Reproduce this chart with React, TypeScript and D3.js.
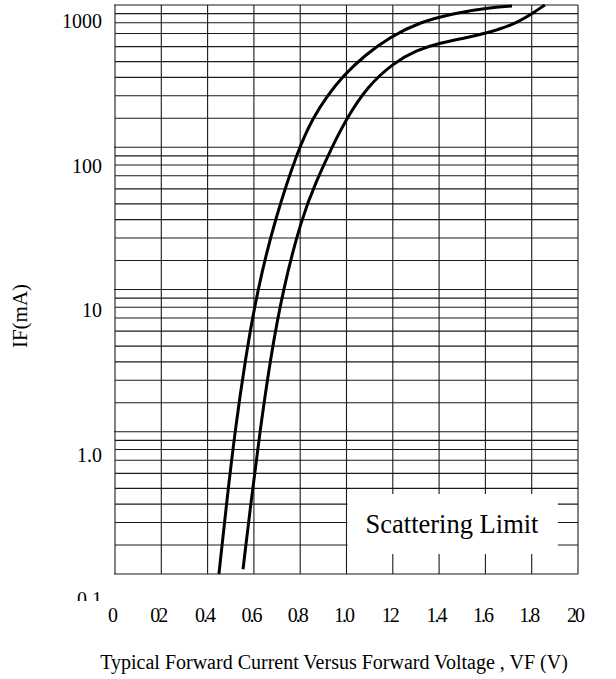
import React from "react";
import * as d3 from "d3";

const voltTicks = [0, 0.2, 0.4, 0.6, 0.8, 1.0, 1.2, 1.4, 1.6, 1.8, 2.0];
const voltLabels = ["0", "02", "0.4", "0.6", "0.8", "1.0", "12", "1.4", "1.6", "1.8", "20"];
const decades = [0.1, 1, 10, 100, 1000];
const decadeLabels = ["0.1", "1.0", "10", "100", "1000"];
const minorMultipliers = [1.6, 2.3, 3.1, 4.0, 5.1, 6.3, 7.5, 8.7];

const curveAVolts = [0.449, 0.482, 0.518, 0.562, 0.616, 0.692, 0.795, 0.855, 0.916, 0.985, 1.08, 1.188, 1.317, 1.469, 1.607, 1.715];
const curveAmA = [0.1, 0.316, 1.0, 3.19, 10.1, 31.8, 100.4, 160.6, 229, 317, 445, 596, 760, 878, 953, 984];

const curveBVolts = [0.553, 0.587, 0.626, 0.67, 0.726, 0.806, 0.868, 0.937, 1.004, 1.089, 1.201, 1.305, 1.404, 1.512, 1.607, 1.719, 1.806, 1.857];
const curveBmA = [0.108, 0.316, 1.0, 3.19, 10.1, 31.8, 57, 100.4, 163, 265, 391, 483, 541, 586, 635, 723, 878, 1000];

const W = 616;
const H = 679;
const left = 115, right = 578, top = 5, bottom = 574;

export default function App() {
  const x = d3.scaleLinear().domain([0, 2.0]).range([left, right]);
  const y = d3.scaleLog().domain([0.1, 1000]).range([bottom, top]);
  const yLabel = d3.scaleLog().domain([0.1, 1000]).range([606, 28]);

  const hLines: { v: number; major: boolean }[] = [];
  decades.forEach((d, i) => {
    hLines.push({ v: d, major: true });
    if (i < decades.length - 1) minorMultipliers.forEach((m) => hLines.push({ v: d * m, major: false }));
  });

  const line = d3
    .line<[number, number]>()
    .x((d) => x(d[0]))
    .y((d) => y(d[1]))
    .curve(d3.curveBasis);

  const curveA = line(curveAVolts.map((v, i) => [v, curveAmA[i]] as [number, number])) || "";
  const curveB = line(curveBVolts.map((v, i) => [v, curveBmA[i]] as [number, number])) || "";

  const font = "'Liberation Serif', 'Times New Roman', serif";
  const gridStroke = "#1a1a1a";

  return (
    <svg width={W} height={H} style={{ position: "absolute", left: 0, top: 0, background: "#fff" }} fontFamily={font}>
      <defs>
        <clipPath id="ylabclip">
          <rect x={0} y={0} width={left} height={601} />
        </clipPath>
      </defs>
      <rect x={0} y={0} width={W} height={H} fill="#fff" />
      {hLines.map((h, i) => (
        <line key={"h" + i} x1={h.major ? left - 1 : left} x2={right} y1={y(h.v)} y2={y(h.v)} stroke={gridStroke} strokeWidth={1.1} />
      ))}
      {voltTicks.map((v, i) => (
        <line key={"v" + i} x1={x(v)} x2={x(v)} y1={top} y2={bottom} stroke={gridStroke} strokeWidth={1.1} />
      ))}
      <rect x={x(1.0) + 1} y={494} width={x(1.9) + 2 - x(1.0)} height={60} fill="#fff" />
      <text x={452} y={533} fontSize={26.5} textAnchor="middle" fill="#000">
        Scattering Limit
      </text>
      <path d={curveA} fill="none" stroke="#000" strokeWidth={3} />
      <path d={curveB} fill="none" stroke="#000" strokeWidth={3} />
      <g clipPath="url(#ylabclip)">
        {decades.map((d, i) => (
          <text key={"yl" + i} x={102} y={yLabel(d)} fontSize={20} textAnchor="end" fill="#000">
            {decadeLabels[i]}
          </text>
        ))}
      </g>
      {voltTicks.map((v, i) => (
        <text key={"xl" + i} x={x(v) - 3} y={622} fontSize={20} textAnchor="middle" letterSpacing={-2} fill="#000">
          {voltLabels[i]}
        </text>
      ))}
      <text x={334} y={669} fontSize={20} textAnchor="middle" fill="#000">
        Typical Forward Current Versus Forward Voltage , VF (V)
      </text>
      <text transform={`translate(27,316) rotate(-90)`} fontSize={21} textAnchor="middle" fill="#000">
        IF(mA)
      </text>
    </svg>
  );
}
